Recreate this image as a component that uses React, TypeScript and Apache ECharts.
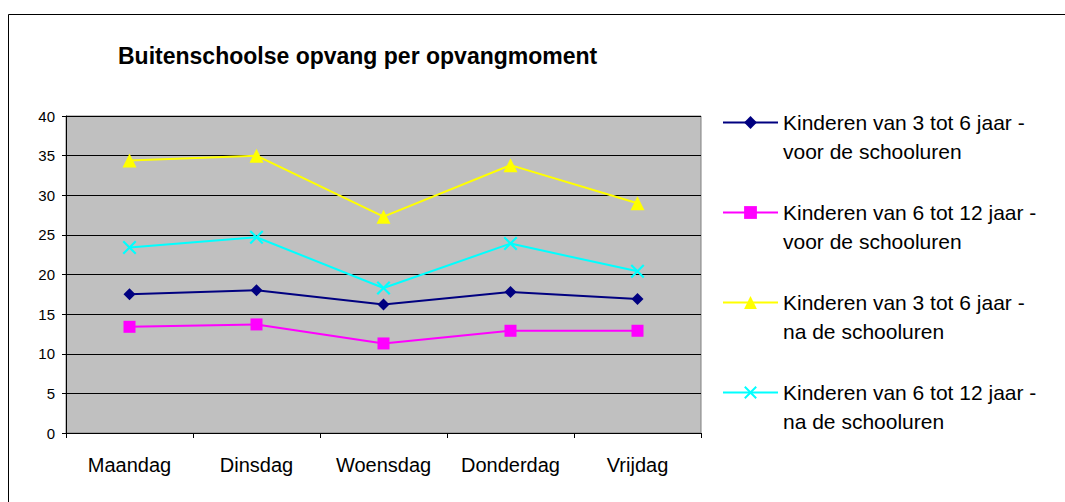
import React, { useEffect, useRef } from "react";
import * as echarts from "echarts";

const categories = ["Maandag", "Dinsdag", "Woensdag", "Donderdag", "Vrijdag"];
const seriesNames = [
  "Kinderen van 3 tot 6 jaar - voor de schooluren",
  "Kinderen van 6 tot 12 jaar - voor de schooluren",
  "Kinderen van 3 tot 6 jaar - na de schooluren",
  "Kinderen van 6 tot 12 jaar - na de schooluren",
];
const kinderen3tot6Voor = [17.5, 18.0, 16.2, 17.8, 16.9];
const kinderen6tot12Voor = [13.4, 13.7, 11.3, 12.9, 12.9];
const kinderen3tot6Na = [34.4, 35.0, 27.3, 33.8, 29.0];
const kinderen6tot12Na = [23.4, 24.7, 18.3, 23.9, 20.4];
const yTicks = { min: 0, max: 40, interval: 5 };

const FONT = "'Liberation Sans', Arial, sans-serif";
const X_PATH =
  "path://M0,1.3L1.3,0L6,4.7L10.7,0L12,1.3L7.3,6L12,10.7L10.7,12L6,7.3L1.3,12L0,10.7L4.7,6Z";

export default function App() {
  const ref = useRef<HTMLDivElement>(null);
  useEffect(() => {
    if (!ref.current) return;
    const chart = echarts.init(ref.current, null, { renderer: "svg" });
    const mk = (name: string, data: number[], color: string, symbol: string, size: number) => ({
      name,
      type: "line",
      data,
      symbol,
      symbolSize: size,
      lineStyle: { color, width: 2 },
      itemStyle: { color },
    });
    chart.setOption({
      animation: false,
      backgroundColor: "#ffffff",
      textStyle: { fontFamily: FONT },
      title: {
        text: "Buitenschoolse opvang per opvangmoment",
        left: 118,
        top: 44,
        padding: 0,
        textStyle: { fontFamily: FONT, fontSize: 23, fontWeight: "bold", color: "#000" },
      },
      graphic: [
        {
          type: "rect",
          shape: { x: 8.5, y: 14.5, width: 1100, height: 600 },
          style: { fill: "none", stroke: "#000", lineWidth: 1 },
          silent: true,
        },
      ],
      legend: {
        orient: "vertical",
        left: 722,
        top: 79,
        padding: 0,
        itemWidth: 55,
        itemHeight: 16,
        itemGap: 3,
        formatter: (name: string) => " \n" + name.replace(" - ", " -\n"),
        textStyle: { fontFamily: FONT, fontSize: 21, lineHeight: 29, color: "#000" },
        data: seriesNames,
      },
      grid: {
        left: 66,
        top: 116,
        width: 635,
        height: 317,
        show: true,
        backgroundColor: "#C0C0C0",
        borderColor: "#808080",
        borderWidth: 1,
      },
      xAxis: {
        type: "category",
        data: categories,
        boundaryGap: true,
        axisLine: { lineStyle: { color: "#000", width: 1 } },
        axisTick: { show: true, interval: 0, length: 5, lineStyle: { color: "#000" } },
        axisLabel: { interval: 0, fontFamily: FONT, fontSize: 20, color: "#000", margin: 22 },
      },
      yAxis: {
        type: "value",
        min: yTicks.min,
        max: yTicks.max,
        interval: yTicks.interval,
        axisLine: { show: true, lineStyle: { color: "#000", width: 1 } },
        axisTick: { show: true, length: 4, lineStyle: { color: "#000" } },
        axisLabel: { fontFamily: FONT, fontSize: 15, color: "#000", margin: 11 },
        splitLine: { show: true, lineStyle: { color: "#000", width: 1 } },
      },
      series: [
        mk(seriesNames[0], kinderen3tot6Voor, "#000080", "diamond", 12),
        mk(seriesNames[1], kinderen6tot12Voor, "#FF00FF", "rect", 12),
        mk(seriesNames[2], kinderen3tot6Na, "#FFFF00", "triangle", 14),
        mk(seriesNames[3], kinderen6tot12Na, "#00FFFF", X_PATH, 14),
      ],
    });
    return () => chart.dispose();
  }, []);
  return (
    <div
      ref={ref}
      style={{ position: "fixed", left: 0, top: 0, width: 1065, height: 502 }}
    />
  );
}
